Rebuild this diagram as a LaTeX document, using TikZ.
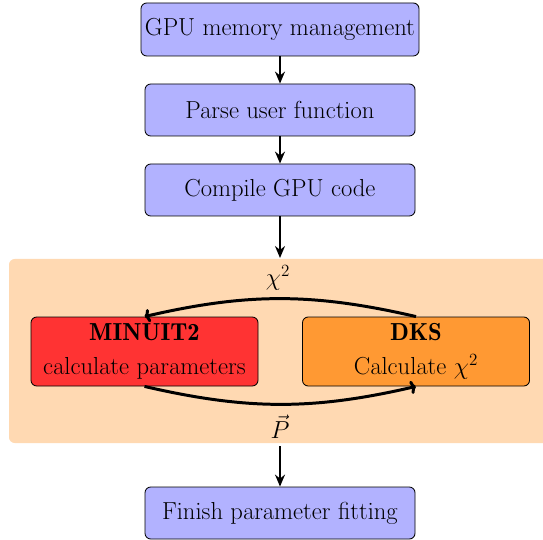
\documentclass[tikz,border=0pt]{standalone}
\usetikzlibrary{arrows.meta}
\newcommand\picfont{\fontencoding{OT1}\fontfamily{cmr}\fontsize{17.28}{24}\selectfont}
\begin{document}
\begin{tikzpicture}[x=0.7024pt,y=-0.7024pt,
  stepbox/.style={draw=black, line width=0.6pt, rounded corners=4pt, fill=blue!30,
    minimum width=270*0.7024pt, minimum height=52*0.7024pt, inner sep=0pt, font=\picfont},
  bigbox/.style={draw=black, line width=0.6pt, rounded corners=4pt,
    minimum width=227*0.7024pt, minimum height=69*0.7024pt, inner sep=0pt, align=center,
    font=\picfont},
  flow/.style={line width=1.9pt, -{Stealth[length=8.4pt,width=7pt]}},
  loop/.style={line width=2.1pt, -{To[length=4pt,width=9.5pt]}},
  lbl/.style={font=\picfont, inner sep=0pt}
]
\useasboundingbox (0,0) rectangle (543,540);
\fill[orange!30, rounded corners=4pt] (9,259) rectangle (560,443);
\coordinate (bgtop) at (280,258);
\coordinate (bgbot) at (280,446);

\node[stepbox, minimum width=278*0.7024pt, minimum height=53*0.7024pt] (gpu) at (280,29.5) {GPU memory management};
\node[stepbox] (parse) at (280,110) {Parse user function};
\node[stepbox] (compile) at (280,190) {Compile GPU code};
\node[stepbox] (finish) at (280,513) {Finish parameter fitting};

\node[bigbox, fill=red!80] (minuit) at (144.5,351.5) {\textbf{MINUIT2}\\calculate parameters};
\node[bigbox, fill=orange!80] (dks) at (416,351.5) {\textbf{DKS}\\Calculate $\chi^2$};

\draw[flow] (gpu) -- (parse);
\draw[flow] (parse) -- (compile);
\draw[flow] (compile) -- (bgtop);
\draw[flow] (bgbot) -- (finish);

\draw[loop] (dks.north) to[bend right=13] (minuit.north);
\draw[loop] (minuit.south) to[bend right=13] (dks.south);
\node[lbl] (chi) at (278,278) {$\chi^2$};
\node[lbl] (pvec) at (280,427) {$\vec{P}$};
\end{tikzpicture}
\end{document}
